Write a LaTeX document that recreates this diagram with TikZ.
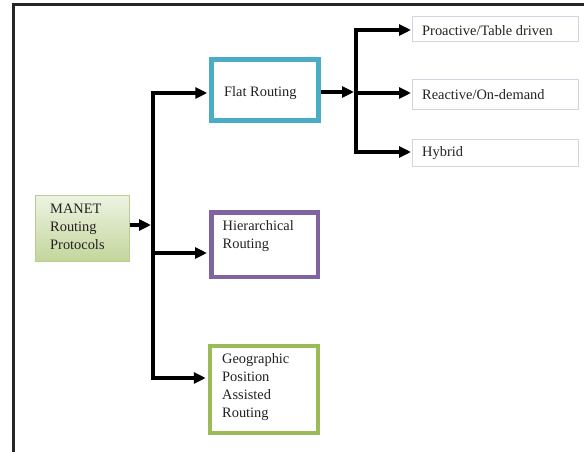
\documentclass[tikz,border=0pt]{standalone}
\usepackage{fontspec}
\newfontfamily\lserif{Liberation Serif}
\usetikzlibrary{arrows.meta}
\definecolor{flatc}{HTML}{4BACC6}
\definecolor{hierc}{HTML}{8064A2}
\definecolor{geoc}{HTML}{9BBB59}
\definecolor{thinc}{HTML}{D4D4E0}
\definecolor{txtc}{HTML}{222222}
\definecolor{mtop}{HTML}{EEF3E3}
\definecolor{mbot}{HTML}{C3D69B}
\definecolor{mborder}{HTML}{B9CD90}
\begin{document}
\begin{tikzpicture}[x=1pt,y=-1pt,
  bigbox/.style={draw, line width=4.5pt, fill=white, inner sep=0pt, minimum width=107pt},
  thinbox/.style={draw=thinc, line width=1pt, fill=white, inner sep=0pt, minimum width=166pt},
  lbl/.style={anchor=base west, inner sep=0pt, align=left, text=txtc,
              font=\lserif\Large},
  conn/.style={line width=4pt, line join=miter, black},
  tip/.style={-{Triangle[length=12pt,width=11pt]}},
  tips/.style={{Triangle[length=12pt,width=11pt]}-{Triangle[length=12pt,width=11pt]}}
]
\useasboundingbox (0,0) rectangle (584,452);
% outer frame
\draw[line width=2.5pt, black!85] (13.5,470) -- (13.5,4.7) -- (600,4.7);

% MANET box
\node[draw=mborder, line width=1pt, top color=mtop, bottom color=mbot,
      minimum width=94pt, minimum height=66pt, inner sep=0pt] (manet) at (82,228) {};
\node[lbl] (manett) at (50,249) {MANET\\Routing\\Protocols};

% second level boxes
\node[bigbox, draw=flatc, minimum height=61pt] (flat) at (265,90) {};
\node[lbl] (flatt) at (224,96.5) {Flat Routing};
\node[bigbox, draw=hierc, minimum height=64.5pt, minimum width=106.5pt] (hier) at (264.5,244.5) {};
\node[lbl] (hiert) at (222.5,248.5) {Hierarchical\\Routing};
\node[bigbox, draw=geoc, minimum height=87pt, minimum width=108pt] (geo) at (264,389.5) {};
\node[lbl] (geot) at (222,417) {Geographic\\Position\\Assisted\\Routing};

% third level boxes
\node[thinbox, minimum height=25pt] (pro) at (495,29) {};
\node[lbl] (prot) at (422,35.5) {Proactive/Table driven};
\node[thinbox, minimum height=29pt] (rea) at (495,94.5) {};
\node[lbl] (reat) at (422,99.5) {Reactive/On-demand};
\node[thinbox, minimum height=27pt] (hyb) at (495,152.5) {};
\node[lbl] (hybt) at (422,156.5) {Hybrid};

% trunk coordinates
\coordinate (ltop) at (153,93);
\coordinate (lbot) at (153,378);
\coordinate (lmid) at (153,253);
\coordinate (lin) at (151,225);
\coordinate (mout) at (129.5,225);
\coordinate (rtop) at (356,30);
\coordinate (rbot) at (356,152);
\coordinate (rmid) at (356,93);
\coordinate (rin) at (354,92);
\coordinate (fout) at (321,92);

% left trunk
\draw[conn, tips, shorten <=2pt, shorten >=2pt] (ltop -| flat.west) -- (ltop) -- (lbot) -- (lbot -| geo.west);
\draw[conn, tip, shorten >=2pt] (lmid) -- (lmid -| hier.west);
\draw[conn, tip] (mout) -- (lin);

% right trunk
\draw[conn, tips, shorten <=0.5pt, shorten >=0.5pt] (rtop -| pro.west) -- (rtop) -- (rbot) -- (rbot -| hyb.west);
\draw[conn, tip, shorten >=0.5pt] (rmid) -- (rmid -| rea.west);
\draw[conn, tip] (fout) -- (rin);
\end{tikzpicture}
\end{document}
